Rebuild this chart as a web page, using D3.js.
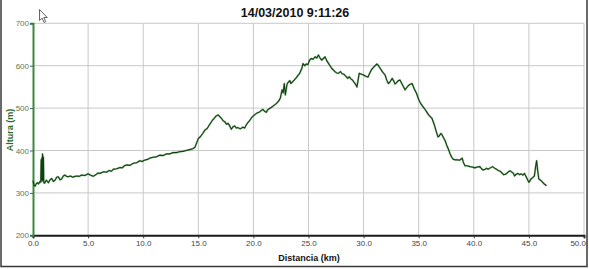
<!DOCTYPE html>
<html>
<head>
<meta charset="utf-8">
<script src="https://cdn.jsdelivr.net/npm/d3@7"></script>
<style>
  body { margin: 0; background: #fff; }
  svg { display: block; font-family: "Liberation Sans", Arial, sans-serif; }
</style>
</head>
<body>
<div id="chart"></div>
<script>
// perfil de altura

const chartTitle = "14/03/2010 9:11:26";
const xTicks = [0, 5, 10, 15, 20, 25, 30, 35, 40, 45, 50];
const yTicks = [200, 300, 400, 500, 600, 700];

const distKm = [
  0.00, 0.10, 0.20, 0.30, 0.40, 0.50, 0.60, 0.70, 0.74, 0.77, 0.80, 0.83, 0.86, 0.89, 0.92, 0.95, 0.98,
  1.05, 1.20, 1.40, 1.55, 1.70, 1.85, 2.00, 2.15, 2.30, 2.45, 2.60, 2.75, 2.90, 3.05, 3.20, 3.40, 3.60,
  3.80, 4.00, 4.20, 4.40, 4.70, 5.00, 5.20, 5.45, 5.70, 5.90, 6.10, 6.40, 6.70, 6.90, 7.10, 7.30, 7.60,
  7.90, 8.10, 8.30, 8.50, 8.80, 9.10, 9.40, 9.70, 9.90, 10.10, 10.40, 10.60, 10.90, 11.20, 11.50, 11.80,
  12.10, 12.40, 12.70, 13.00, 13.30, 13.60, 13.90, 14.20, 14.50, 14.70, 14.85, 15.00, 15.20, 15.40, 15.60,
  15.80, 16.00, 16.15, 16.30, 16.45, 16.60, 16.80, 16.95, 17.10, 17.25, 17.40, 17.55, 17.70, 17.85, 18.00,
  18.15, 18.30, 18.45, 18.60, 18.80, 19.05, 19.20, 19.35, 19.50, 19.65, 19.85, 20.10, 20.30, 20.56, 20.70,
  20.86, 21.00, 21.17, 21.30, 21.47, 21.70, 21.90, 22.10, 22.30, 22.45, 22.60, 22.70, 22.80, 22.90, 23.00,
  23.07, 23.20, 23.30, 23.40, 23.55, 23.70, 23.90, 24.05, 24.20, 24.40, 24.50, 24.65, 24.80, 24.95, 25.10,
  25.25, 25.40, 25.60, 25.75, 25.90, 26.05, 26.20, 26.35, 26.50, 26.65, 26.80, 26.95, 27.10, 27.25, 27.40,
  27.55, 27.70, 27.90, 28.05, 28.20, 28.40, 28.56, 28.70, 28.85, 29.00, 29.10, 29.25, 29.40, 29.50, 29.60,
  29.80, 30.00, 30.20, 30.40, 30.55, 30.70, 30.90, 31.05, 31.20, 31.35, 31.50, 31.70, 31.95, 32.10, 32.25,
  32.40, 32.60, 32.75, 32.85, 33.00, 33.15, 33.30, 33.50, 33.76, 33.90, 34.10, 34.25, 34.40, 34.60, 34.80,
  35.00, 35.10, 35.25, 35.40, 35.60, 35.75, 35.90, 36.05, 36.20, 36.40, 36.60, 36.75, 36.85, 37.00, 37.10,
  37.25, 37.40, 37.55, 37.70, 37.85, 38.00, 38.15, 38.30, 38.50, 38.70, 38.85, 38.95, 39.05, 39.20, 39.40,
  39.65, 39.85, 40.10, 40.30, 40.55, 40.70, 40.85, 41.00, 41.15, 41.30, 41.50, 41.70, 41.85, 42.05, 42.20,
  42.40, 42.55, 42.70, 42.85, 43.00, 43.15, 43.30, 43.45, 43.60, 43.70, 43.85, 44.00, 44.15, 44.30, 44.45,
  44.60, 44.75, 44.90, 45.00, 45.10, 45.20, 45.35, 45.50, 45.60, 45.70, 45.80, 45.90, 46.00, 46.10, 46.25,
  46.40, 46.60
];

const altM = [
  329, 318, 316, 322, 324, 321, 326, 325, 378, 330, 382, 328, 392, 386, 330, 384, 324,
  323, 330, 324, 331, 334, 327, 330, 337, 338, 331, 333, 340, 342, 339, 338, 340, 337,
  339, 340, 339, 342, 341, 345, 342, 339, 343, 347, 346, 350, 349, 353, 351, 356, 357,
  360, 359, 364, 366, 365, 370, 371, 376, 374, 377, 379, 382, 384, 385, 389, 388,
  392, 392, 395, 395, 397, 398, 400, 402, 404, 408, 418, 428, 433, 440, 448,
  452, 460, 466, 472, 476, 481, 484, 480, 476, 470, 468, 462, 464, 458, 450,
  456, 458, 453, 454, 451, 455, 453, 460, 466, 470, 478, 484, 488, 491, 494,
  497, 493, 490, 496, 499, 503, 507, 511, 517, 524, 543, 536, 558, 531, 548,
  558, 562, 565, 558, 562, 566, 572, 577, 582, 594, 605, 600, 604, 603, 613,
  617, 615, 621, 618, 625, 618, 613, 617, 621, 612, 606, 600, 594, 590, 586,
  583, 582, 586, 581, 580, 575, 570, 574, 569, 566, 562, 557, 550, 566, 582,
  580, 578, 575, 573, 582, 590, 596, 600, 604, 600, 594, 586, 578, 566, 558,
  562, 570, 563, 557, 560, 565, 566, 556, 543, 548, 554, 556, 558, 545, 535,
  520, 515, 508, 503, 496, 490, 484, 480, 476, 462, 444, 432, 434, 440, 438,
  430, 423, 412, 403, 392, 384, 379, 378, 378, 377, 380, 382, 372, 364, 364,
  362, 361, 359, 361, 362, 357, 354, 355, 358, 356, 359, 362, 359, 356, 353,
  351, 347, 343, 344, 346, 350, 352, 349, 346, 340, 344, 346, 343, 345, 342,
  346, 338, 330, 325, 329, 333, 336, 340, 360, 376, 352, 333, 331, 329, 325,
  321, 317
];

const width = 589, height = 269;

const svg = d3.select("#chart")
    .append("svg")
    .attr("width", width)
    .attr("height", height);

const x = d3.scaleLinear().domain([0, 50]).range([33, 584]);
const y = d3.scaleLinear().domain([200, 700]).range([235.3, 23.3]);

// marco exterior
svg.append("path")
    .attr("d", `M1,0 V${height - 2.5} H${width - 2} V0`)
    .attr("fill", "none")
    .attr("stroke", "#3a3a3a")
    .attr("stroke-width", 1.5);

// grid
svg.append("g")
    .selectAll("line")
    .data(xTicks.slice(1))
    .enter().append("line")
    .attr("x1", d => x(d)).attr("x2", d => x(d))
    .attr("y1", y(700)).attr("y2", y(200))
    .attr("stroke", "#c8c8c8");

svg.append("g")
    .selectAll("line")
    .data(yTicks.slice(1))
    .enter().append("line")
    .attr("x1", x(0)).attr("x2", x(50))
    .attr("y1", d => y(d)).attr("y2", d => y(d))
    .attr("stroke", "#c8c8c8");

// eje x
const xAxis = svg.append("g")
    .attr("transform", `translate(0,${y(200)})`)
    .call(d3.axisBottom(x).tickValues(xTicks).tickFormat(d3.format(".1f")).tickSize(3).tickPadding(2));
xAxis.select(".domain").attr("stroke", "#1a1a1a").attr("stroke-width", 2);
xAxis.selectAll(".tick line").attr("stroke", "#333");
xAxis.selectAll("text").attr("font-size", "8px").attr("fill", "#444");
// la ultima etiqueta queda pegada al borde
xAxis.selectAll("text").filter(d => d === 50)
    .attr("text-anchor", "end")
    .attr("dx", 1.5);

// eje y
const yAxis = svg.append("g")
    .attr("transform", `translate(${x(0)},0)`)
    .call(d3.axisLeft(y).tickValues(yTicks).tickFormat(d3.format("d")).tickSize(3).tickPadding(1));
yAxis.select(".domain").attr("stroke", "#3a8a3a").attr("stroke-width", 2);
yAxis.selectAll(".tick line").attr("stroke", "#555");
yAxis.selectAll("text").attr("font-size", "8px").attr("fill", "#5a7a5a");

// perfil
const line = d3.line()
    .x((d, i) => x(distKm[i]))
    .y(d => y(d));

svg.append("path")
    .datum(altM)
    .attr("fill", "none")
    .attr("stroke", "#4c9a4c")
    .attr("stroke-width", 2)
    .attr("stroke-opacity", 0.5)
    .attr("stroke-linejoin", "round")
    .attr("d", line);

svg.append("path")
    .datum(altM)
    .attr("fill", "none")
    .attr("stroke", "#123f12")
    .attr("stroke-width", 1.1)
    .attr("stroke-linejoin", "round")
    .attr("d", line);

// textos
svg.append("text")
    .attr("x", 295).attr("y", 17)
    .attr("text-anchor", "middle")
    .attr("font-size", "12.5px")
    .attr("font-weight", "bold")
    .attr("fill", "#111")
    .text(chartTitle);

svg.append("text")
    .attr("x", 309).attr("y", 261)
    .attr("text-anchor", "middle")
    .attr("font-size", "9px")
    .attr("font-weight", "bold")
    .attr("fill", "#111")
    .text("Distancia (km)");

svg.append("text")
    .attr("transform", "translate(13,130) rotate(-90)")
    .attr("text-anchor", "middle")
    .attr("font-size", "9px")
    .attr("font-weight", "bold")
    .attr("fill", "#2a6a2a")
    .text("Altura (m)");

// puntero del raton
svg.append("path")
    .attr("transform", "translate(39.5,9.5)")
    .attr("d", "M0,0 L0,11 L2.6,8.6 L4.6,13 L6.2,12.2 L4.3,8 L7.8,8 Z")
    .attr("fill", "#fff")
    .attr("stroke", "#555")
    .attr("stroke-width", 0.9);
</script>
</body>
</html>
